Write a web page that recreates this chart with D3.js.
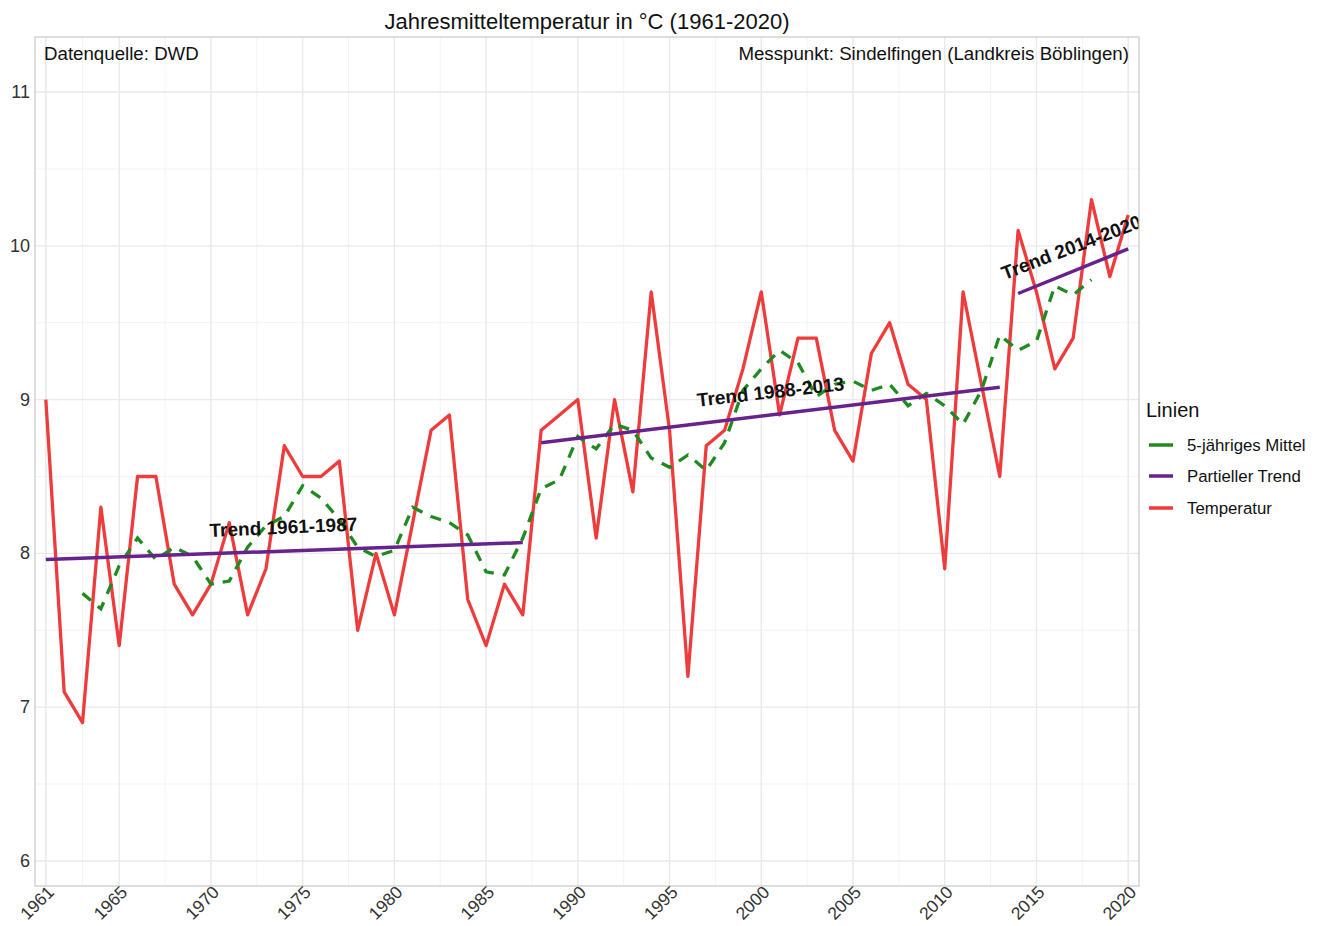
<!DOCTYPE html>
<html>
<head>
<meta charset="utf-8">
<script src="https://cdn.jsdelivr.net/npm/d3@7"></script>
<style>
  html, body { margin: 0; padding: 0; background: #fff; }
  svg { display: block; font-family: "Liberation Sans", Arial, sans-serif; }
</style>
</head>
<body>
<svg id="chart" width="1324" height="926"></svg>
<script>
// ---- Data ----
const years = d3.range(1961, 2021);
const temperature = [
  9.0, 7.1, 6.9, 8.3, 7.4, 8.5, 8.5, 7.8, 7.6, 7.8,
  8.2, 7.6, 7.9, 8.7, 8.5, 8.5, 8.6, 7.5, 8.0, 7.6,
  8.2, 8.8, 8.9, 7.7, 7.4, 7.8, 7.6, 8.8, 8.9, 9.0,
  8.1, 9.0, 8.4, 9.7, 8.8, 7.2, 8.7, 8.8, 9.2, 9.7,
  8.9, 9.4, 9.4, 8.8, 8.6, 9.3, 9.5, 9.1, 9.0, 7.9,
  9.7, 9.1, 8.5, 10.1, 9.7, 9.2, 9.4, 10.3, 9.8, 10.2
];
// 5-year mean, 1963..2018
const meanYears = d3.range(1963, 2019);
const mean5 = [
  7.74, 7.64, 7.92, 8.10, 7.96, 8.04, 7.98, 7.80, 7.82, 8.04,
  8.18, 8.24, 8.44, 8.36, 8.22, 8.04, 7.98, 8.02, 8.30, 8.24,
  8.20, 8.12, 7.88, 7.86, 8.10, 8.42, 8.48, 8.76, 8.68, 8.84,
  8.80, 8.62, 8.56, 8.64, 8.54, 8.72, 9.06, 9.20, 9.32, 9.24,
  9.02, 9.10, 9.12, 9.06, 9.10, 8.96, 9.04, 8.96, 8.84, 9.06,
  9.42, 9.32, 9.38, 9.74, 9.68, 9.78
];
// Partial trends
const trendStart = [1961, 1988, 2014];
const trendEnd = [1987, 2013, 2020];
const trendStartVal = [7.96, 8.72, 9.69];
const trendEndVal = [8.07, 9.08, 9.98];
const trendLabels = ["Trend 1961-1987", "Trend 1988-2013", "Trend 2014-2020"];
const trendLabelX = [1973.95, 2000.5, 2016.9];
const trendLabelY = [8.17, 9.05, 9.99];
const trendLabelAngle = [-2.5, -6.5, -21];

const xTicks = [1961, 1965, 1970, 1975, 1980, 1985, 1990, 1995, 2000, 2005, 2010, 2015, 2020];
const xMinor = [1963, 1967.5, 1972.5, 1977.5, 1982.5, 1987.5, 1992.5, 1997.5, 2002.5, 2007.5, 2012.5, 2017.5];
const yTicks = [6, 7, 8, 9, 10, 11];
const yMinor = [6.5, 7.5, 8.5, 9.5, 10.5];

const legendLabels = ["5-jähriges Mittel", "Partieller Trend", "Temperatur"];
const colors = { mean: "#1f8a1f", trend: "#68228B", temp: "#EE3B3B" };

// ---- Layout ----
const svg = d3.select("#chart");
const P = { left: 35, right: 1139, top: 37, bottom: 886 };

const x = d3.scaleLinear().domain([1960.41, 2020.59]).range([P.left, P.right]);
const y = d3.scaleLinear().domain([5.837, 11.358]).range([P.bottom, P.top]);

// Gridlines
const grid = svg.append("g");
grid.selectAll(".ymin").data(yMinor).join("line")
  .attr("x1", P.left).attr("x2", P.right)
  .attr("y1", d => y(d)).attr("y2", d => y(d))
  .attr("stroke", "#f3f3f3").attr("stroke-width", 1);
grid.selectAll(".xmin").data(xMinor).join("line")
  .attr("y1", P.top).attr("y2", P.bottom)
  .attr("x1", d => x(d)).attr("x2", d => x(d))
  .attr("stroke", "#f3f3f3").attr("stroke-width", 1);
grid.selectAll(".ymaj").data(yTicks).join("line")
  .attr("x1", P.left).attr("x2", P.right)
  .attr("y1", d => y(d)).attr("y2", d => y(d))
  .attr("stroke", "#e9e9e9").attr("stroke-width", 1.4);
grid.selectAll(".xmaj").data(xTicks).join("line")
  .attr("y1", P.top).attr("y2", P.bottom)
  .attr("x1", d => x(d)).attr("x2", d => x(d))
  .attr("stroke", "#e9e9e9").attr("stroke-width", 1.4);

// clip
svg.append("defs").append("clipPath").attr("id", "clip")
  .append("rect").attr("x", P.left).attr("y", P.top)
  .attr("width", P.right - P.left).attr("height", P.bottom - P.top);

const plot = svg.append("g").attr("clip-path", "url(#clip)");

const line = d3.line().x(d => x(d[0])).y(d => y(d[1]));

// Temperature
plot.append("path")
  .datum(years.map((yr, i) => [yr, temperature[i]]))
  .attr("d", line).attr("fill", "none")
  .attr("stroke", colors.temp).attr("stroke-width", 3.3)
  .attr("stroke-linejoin", "round");

// 5-year mean
plot.append("path")
  .datum(meanYears.map((yr, i) => [yr, mean5[i]]))
  .attr("d", line).attr("fill", "none")
  .attr("stroke", colors.mean).attr("stroke-width", 3.3)
  .attr("stroke-dasharray", "11,9");

// Trends
plot.selectAll(".trend").data(trendStart).join("line")
  .attr("x1", (d, i) => x(trendStart[i])).attr("x2", (d, i) => x(trendEnd[i]))
  .attr("y1", (d, i) => y(trendStartVal[i])).attr("y2", (d, i) => y(trendEndVal[i]))
  .attr("stroke", colors.trend).attr("stroke-width", 3.5);

// Trend labels
plot.selectAll(".tl").data(trendLabels).join("text")
  .attr("transform", (d, i) => `translate(${x(trendLabelX[i])},${y(trendLabelY[i])}) rotate(${trendLabelAngle[i]})`)
  .attr("text-anchor", "middle").attr("dominant-baseline", "central")
  .attr("font-size", 19).attr("font-weight", "bold").attr("fill", "#111")
  .text(d => d);

// Panel border
svg.append("rect")
  .attr("x", P.left).attr("y", P.top)
  .attr("width", P.right - P.left).attr("height", P.bottom - P.top)
  .attr("fill", "none").attr("stroke", "#c8c8c8").attr("stroke-width", 1.2);

// Y axis labels
svg.append("g").selectAll("text").data(yTicks).join("text")
  .attr("x", P.left - 5).attr("y", d => y(d))
  .attr("text-anchor", "end").attr("dominant-baseline", "central")
  .attr("font-size", 18).attr("fill", "#333")
  .text(d => d);

// X axis labels
svg.append("g").selectAll("text").data(xTicks).join("text")
  .attr("transform", d => `translate(${x(d) + 5},${P.bottom + 3}) rotate(-45)`)
  .attr("text-anchor", "end").attr("dominant-baseline", "central")
  .attr("font-size", 17.5).attr("fill", "#333")
  .text(d => d);

// Title
svg.append("text")
  .attr("x", (P.left + P.right) / 2).attr("y", 29)
  .attr("text-anchor", "middle").attr("font-size", 22).attr("fill", "#111")
  .text("Jahresmitteltemperatur in °C (1961-2020)");

// In-panel notes
svg.append("text").attr("x", 44).attr("y", 60)
  .attr("font-size", 18.7).attr("fill", "#111").text("Datenquelle: DWD");
svg.append("text").attr("x", 1129).attr("y", 60).attr("text-anchor", "end")
  .attr("font-size", 18.7).attr("fill", "#111").text("Messpunkt: Sindelfingen (Landkreis Böblingen)");

// Legend
const lg = svg.append("g");
lg.append("text").attr("x", 1146).attr("y", 417)
  .attr("font-size", 20).attr("fill", "#111").text("Linien");
const legColors = [colors.mean, colors.trend, colors.temp];
const legY = [445, 476, 508];
lg.selectAll(".k").data(legendLabels).join("line")
  .attr("x1", 1149).attr("x2", 1173)
  .attr("y1", (d, i) => legY[i]).attr("y2", (d, i) => legY[i])
  .attr("stroke", (d, i) => legColors[i]).attr("stroke-width", 3.5);
lg.selectAll(".l").data(legendLabels).join("text")
  .attr("x", 1187).attr("y", (d, i) => legY[i])
  .attr("dominant-baseline", "central")
  .attr("font-size", 16.8).attr("fill", "#111")
  .text(d => d);
</script>
</body>
</html>
